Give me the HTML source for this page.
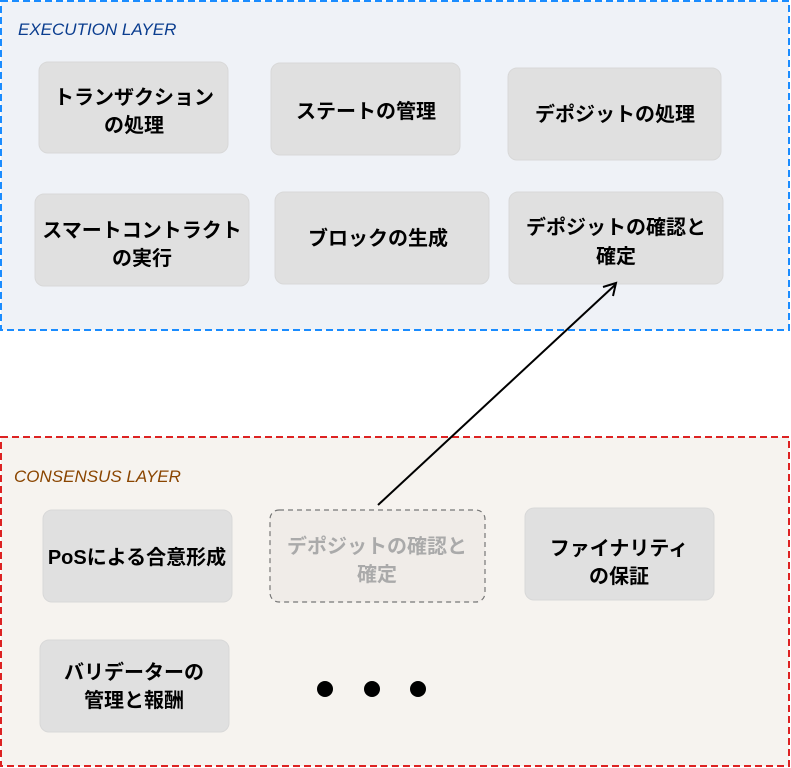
<!DOCTYPE html>
<html><head><meta charset="utf-8"><style>body{margin:0;background:#fff}</style></head>
<body>
<svg width="791" height="768" xmlns="http://www.w3.org/2000/svg" style="display:block">
<rect x="1" y="1" width="788" height="329" fill="#eff2f7" stroke="#1a8cff" stroke-width="2" stroke-dasharray="7,4"/>
<rect x="1" y="437" width="788" height="329" fill="#f6f3ef" stroke="#dd2222" stroke-width="2" stroke-dasharray="7,4"/>
<g font-family="'Liberation Sans','Noto Sans CJK JP',sans-serif" font-style="italic" font-size="17">
<text x="18" y="35" fill="#0a3d8f">EXECUTION LAYER</text>
<text x="14" y="482" fill="#8a4500">CONSENSUS LAYER</text>
</g>
<g fill="#e0e0e0" stroke="#d8d8d8">
<rect x="39" y="62" width="189" height="91" rx="9"/>
<rect x="271" y="63" width="189" height="92" rx="9"/>
<rect x="508" y="68" width="213" height="92" rx="9"/>
<rect x="35" y="194" width="214" height="92" rx="9"/>
<rect x="275" y="192" width="214" height="92" rx="9"/>
<rect x="509" y="192" width="214" height="92" rx="9"/>
<rect x="43" y="510" width="189" height="92" rx="9"/>
<rect x="525" y="508" width="189" height="92" rx="9"/>
<rect x="40" y="640" width="189" height="92" rx="9"/>
</g>
<rect x="270" y="510" width="215" height="92" rx="9" fill="#f0ece8" stroke="#777" stroke-width="1.2" stroke-dasharray="5,4"/>
<g font-family="'Liberation Sans','Noto Sans CJK JP',sans-serif" font-weight="bold" font-size="20" text-anchor="middle" fill="#000">
<text x="134" y="104">トランザクション</text><text x="134" y="132">の処理</text>
<text x="366" y="118">ステートの管理</text>
<text x="615" y="121">デポジットの処理</text>
<text x="142" y="237">スマートコントラクト</text><text x="142" y="265">の実行</text>
<text x="378" y="245">ブロックの生成</text>
<text x="616" y="234">デポジットの確認と</text><text x="616" y="263">確定</text>
<text x="137" y="564">PoSによる合意形成</text>
<text x="377" y="553" fill="#aaa">デポジットの確認と</text><text x="377" y="581" fill="#aaa">確定</text>
<text x="619" y="555">ファイナリティ</text><text x="619" y="583">の保証</text>
<text x="134" y="679">バリデーターの</text><text x="134" y="707">管理と報酬</text>
</g>
<circle cx="325" cy="689" r="8" fill="#000"/>
<circle cx="372" cy="689" r="8" fill="#000"/>
<circle cx="418" cy="689" r="8" fill="#000"/>
<line x1="378" y1="505" x2="615" y2="285" stroke="#000" stroke-width="2"/>
<polyline points="603,287 616,283 613,296" fill="none" stroke="#000" stroke-width="2"/>
</svg>
</body></html>
